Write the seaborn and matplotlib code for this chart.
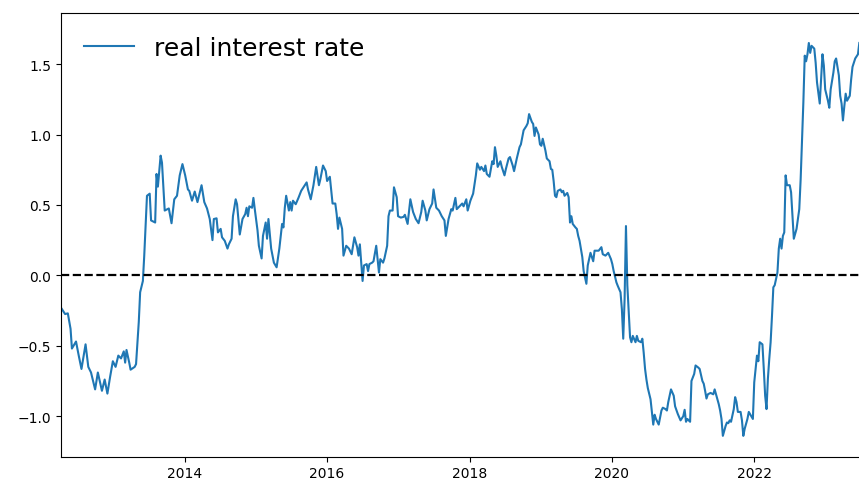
import numpy as np
import pandas as pd
import matplotlib
matplotlib.use("Agg")
import matplotlib.pyplot as plt
import matplotlib.dates as mdates
import seaborn as sns

# Weekly 10-year real interest rate (%), indexed by weeks since the first observation
start_date = "2012-04-06"

weeks = [
    0, 3, 5, 7, 8, 11, 13, 15, 18, 20, 22, 25, 27, 30, 32, 34, 36, 38, 40, 42,
    44, 46, 47, 48, 50, 51, 54, 55, 57, 58, 60, 61, 63, 65, 66, 69, 70, 71, 73, 74,
    76, 79, 81, 83, 85, 87, 89, 91, 93, 94, 96, 98, 100, 103, 105, 107, 109, 111, 112,
    114, 115, 117, 118, 120, 122, 123, 125, 126, 128, 129, 131, 133, 135, 136, 137, 138,
    140, 141, 142, 144, 145, 147, 148, 150, 151, 152, 154, 156, 158, 160, 162, 163, 164,
    165, 167, 168, 169, 170, 172, 174, 176, 180, 181, 183, 185, 187, 189, 190, 192, 194,
    195, 197, 199, 201, 202, 203, 204, 206, 207, 209, 211, 213, 215, 217, 218, 219, 221,
    222, 224, 225, 226, 228, 229, 231, 233, 234, 236, 237, 239, 240, 241, 243, 244, 246,
    247, 249, 251, 252, 254, 256, 258, 260, 262, 264, 265, 267, 268, 270, 272, 273, 275,
    277, 279, 281, 282, 284, 286, 287, 289, 290, 292, 294, 295, 297, 298, 300, 302, 304,
    305, 307, 308, 310, 311, 312, 314, 316, 317, 318, 319, 320, 322, 323, 325, 326, 328,
    329, 331, 332, 334, 336, 337, 339, 341, 342, 343, 345, 346, 347, 348, 350, 351, 352,
    353, 355, 356, 358, 359, 360, 361, 362, 363, 364, 366, 367, 368, 369, 371, 372, 373,
    374, 375, 377, 378, 379, 380, 382, 383, 384, 385, 386, 388, 390, 391, 394, 396, 397,
    399, 401, 403, 404, 405, 407, 408, 410, 411, 412, 413, 414, 415, 416, 417, 418, 419,
    421, 422, 423, 425, 426, 427, 428, 429, 430, 432, 433, 434, 435, 436, 438, 439, 440,
    441, 443, 444, 445, 446, 447, 449, 450, 452, 454, 456, 457, 458, 459, 461, 462, 464,
    465, 467, 468, 470, 471, 472, 473, 474, 476, 478, 479, 480, 482, 483, 484, 485, 487,
    488, 489, 490, 491, 493, 494, 495, 496, 498, 499, 500, 501, 503, 504, 507, 508, 510,
    511, 512, 514, 515, 516, 517, 518, 519, 520, 521, 522, 523, 525, 526, 527, 528, 529,
    530, 531, 532, 534, 535, 536, 537, 539, 540, 541, 542, 543, 544, 545, 546, 547, 548,
    549, 550, 552, 553, 554, 556, 557, 558, 559, 560, 562, 563, 564, 566, 567, 568, 570,
    571, 572, 573, 574, 575, 576, 578, 579, 580, 581, 582, 584, 585,
]

real_rate = [
    -0.23, -0.275, -0.27, -0.38, -0.52, -0.47, -0.57, -0.665, -0.49, -0.65, -0.69, -0.81,
    -0.69, -0.82, -0.74, -0.84, -0.72, -0.61, -0.65, -0.57, -0.59, -0.54, -0.62, -0.53,
    -0.62, -0.67, -0.65, -0.63, -0.33, -0.12, -0.04, 0.14, 0.565, 0.58, 0.39, 0.375, 0.72,
    0.63, 0.85, 0.80, 0.46, 0.475, 0.37, 0.54, 0.565, 0.71, 0.79, 0.71, 0.61, 0.60, 0.53,
    0.595, 0.52, 0.64, 0.52, 0.475, 0.40, 0.25, 0.40,
    0.405, 0.305, 0.33, 0.27, 0.245, 0.19, 0.22, 0.26, 0.42, 0.54, 0.505, 0.29, 0.40,
    0.435, 0.48, 0.42, 0.49, 0.48, 0.55, 0.47, 0.32, 0.21, 0.12, 0.28, 0.375, 0.26, 0.40,
    0.19, 0.09, 0.057, 0.19, 0.365, 0.34, 0.48, 0.565, 0.46, 0.52, 0.46, 0.53, 0.505,
    0.55, 0.60, 0.66, 0.61, 0.54, 0.64, 0.77, 0.64, 0.68, 0.78, 0.74, 0.67, 0.70, 0.51,
    0.51, 0.435, 0.33, 0.41, 0.33, 0.14, 0.21, 0.19, 0.15, 0.27, 0.20, 0.14, 0.22, -0.04,
    0.07, 0.08, 0.03, 0.08, 0.09, 0.10, 0.21, 0.02, 0.115, 0.09, 0.12, 0.21, 0.42, 0.46,
    0.46, 0.625, 0.555, 0.42, 0.41, 0.415, 0.43, 0.365, 0.54, 0.45, 0.40, 0.37, 0.45,
    0.53, 0.46, 0.39, 0.47, 0.51, 0.61, 0.48, 0.46, 0.42, 0.39, 0.28, 0.40, 0.47, 0.46,
    0.55, 0.47, 0.49, 0.51, 0.49, 0.54, 0.46, 0.53, 0.58, 0.71, 0.795, 0.75, 0.77, 0.74,
    0.78, 0.72, 0.70, 0.81, 0.79, 0.91, 0.85, 0.77, 0.81, 0.77, 0.71, 0.755, 0.83, 0.84,
    0.78, 0.74, 0.83, 0.91, 0.93, 1.03, 1.06, 1.08, 1.145, 1.09, 1.075, 0.99, 1.05, 1.00,
    0.93, 0.92, 0.97, 0.885, 0.83, 0.81, 0.755, 0.75, 0.67, 0.565, 0.555, 0.60, 0.61,
    0.59, 0.60, 0.565, 0.585, 0.555, 0.375, 0.42, 0.365, 0.34, 0.33, 0.28, 0.245, 0.13,
    0.03, -0.015, -0.06, 0.07, 0.16, 0.10, 0.175, 0.175, 0.20, 0.15, 0.14, 0.16, 0.115,
    0.08, 0.03, -0.05, -0.075, -0.12, -0.24, -0.45, -0.17, 0.35, -0.07, -0.26, -0.44,
    -0.475, -0.43, -0.475, -0.43, -0.465, -0.475, -0.45, -0.55, -0.665, -0.74, -0.80,
    -0.88, -0.97, -1.06, -0.99, -1.02, -1.06, -1.01, -0.96, -0.94, -0.95, -0.96, -0.90,
    -0.855, -0.81, -0.855, -0.93, -0.985, -1.03, -1.00, -0.955, -1.04, -1.02, -1.04,
    -0.75, -0.70, -0.64, -0.655, -0.665, -0.75, -0.77, -0.82, -0.875, -0.845, -0.835,
    -0.845, -0.81, -0.845, -0.915, -0.96, -1.02, -1.14, -1.07, -1.045, -1.05, -1.03,
    -1.04, -0.95, -0.865, -0.90, -0.97, -0.97, -1.03, -1.14, -1.09, -1.02, -0.97, -1.02,
    -0.76, -0.57, -0.61, -0.475, -0.49, -0.665, -0.855, -0.95, -0.735, -0.595, -0.475,
    -0.29, -0.085, -0.07, 0.02, 0.19, 0.26, 0.19, 0.28, 0.305, 0.71, 0.64, 0.64, 0.59,
    0.42, 0.26, 0.33, 0.40, 0.47, 0.68, 0.945, 1.23, 1.56, 1.52, 1.57, 1.65, 1.58, 1.63,
    1.61, 1.51, 1.37, 1.22, 1.39, 1.57, 1.49, 1.32, 1.24, 1.19, 1.32, 1.44, 1.52, 1.54,
    1.42, 1.275, 1.22, 1.10, 1.20, 1.29, 1.24, 1.275, 1.39, 1.48, 1.51, 1.54, 1.57, 1.65,
]

series_label = "real interest rate"

t0 = pd.Timestamp(start_date)
df = pd.DataFrame({
    "date": t0 + pd.to_timedelta(np.array(weeks) * 7, unit="D"),
    "rate": real_rate,
})

fig = plt.figure(figsize=(8.59, 4.85), dpi=100)
ax = fig.add_axes([61 / 859, 27.3 / 485, 799 / 859, 443.7 / 485])

sns.lineplot(data=df, x="date", y="rate", ax=ax, color="#1f77b4",
             linewidth=1.5, label=series_label)
ax.axhline(0, color="black", linestyle="--", linewidth=1.6)

ax.set_xlim(t0, t0 + pd.Timedelta(days=585.5 * 7))
ax.set_ylim(-1.288, 1.863)
ax.set_yticks([-1.0, -0.5, 0.0, 0.5, 1.0, 1.5])
ax.xaxis.set_major_locator(mdates.YearLocator(2))
ax.xaxis.set_major_formatter(mdates.DateFormatter("%Y"))
ax.set_xlabel("")
ax.set_ylabel("")
ax.tick_params(labelsize=10)

ax.legend(loc="upper left", fontsize=18, frameon=False)

fig.savefig("out.png", dpi=100)
